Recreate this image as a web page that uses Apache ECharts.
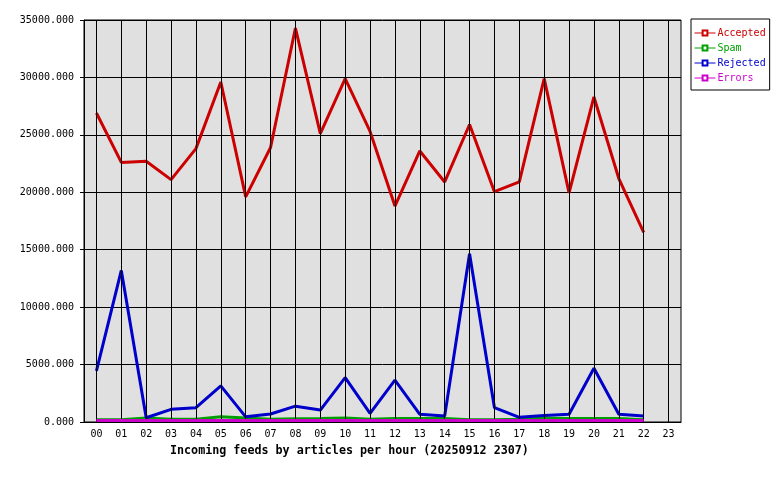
<!DOCTYPE html>
<html>
<head>
<meta charset="utf-8">
<script src="https://cdn.jsdelivr.net/npm/echarts@6/dist/echarts.min.js"></script>
<style>
  html, body { margin: 0; padding: 0; background: #fff; }
  #chart { width: 780px; height: 480px; }
</style>
</head>
<body>
<div id="chart"></div>
<script>
const hours = ['00','01','02','03','04','05','06','07','08','09','10','11',
  '12','13','14','15','16','17','18','19','20','21','22','23']

const accepted = [26900, 22600, 22700, 21100, 23800, 29600, 19600, 23900, 34300, 25100, 29900, 25300,
  18800, 23600, 20900, 25900, 20050, 20900, 29900, 19950, 28300, 21200, 16500]
const spam = [200, 200, 350, 250, 250, 450, 350, 250, 280, 300, 350, 250,
  300, 300, 300, 200, 200, 250, 320, 300, 300, 300, 200]
const rejected = [4450, 13200, 370, 1100, 1250, 3150, 450, 700, 1380, 1040, 3860, 750,
  3650, 670, 520, 14650, 1250, 410, 560, 670, 4680, 670, 520]
const errors = [120, 120, 120, 120, 120, 120, 120, 120, 120, 120, 120, 120,
  120, 120, 120, 120, 120, 120, 120, 120, 120, 120, 120]

const monoFont = '"DejaVu Sans Mono", "Liberation Mono", monospace'

const chart = echarts.init(document.getElementById('chart'))

const lineSeries = (name, color, data, z) => ({
  name,
  type: 'line',
  data,
  z,
  symbol: 'emptyRect',
  symbolSize: 4,
  showSymbol: false,
  animation: false,
  itemStyle: { color },
  lineStyle: { color, width: 3 }
})

chart.setOption({
  animation: false,
  grid: {
    left: 84, right: 99, top: 20, bottom: 58,
    show: true,
    backgroundColor: '#e0e0e0',
    borderColor: '#000',
    borderWidth: 1
  },
  title: {
    text: 'Incoming feeds by articles per hour (20250912 2307)',
    left: 170,
    top: 445,
    padding: 0,
    textStyle: { fontFamily: monoFont, fontSize: 11.7, fontWeight: 'bold', color: '#000' }
  },
  legend: {
    orient: 'vertical',
    left: 691,
    top: 19,
    padding: [9, 4, 7, 3],
    itemGap: 5,
    itemWidth: 21,
    itemHeight: 6,
    backgroundColor: '#fff',
    borderColor: '#000',
    borderWidth: 1,
    borderRadius: 0,
    lineStyle: { width: 1 },
    itemStyle: { borderWidth: 1 },
    textStyle: { fontFamily: monoFont, fontSize: 10, padding: [0, 0, 0, -3] },
    data: [
      { name: 'Accepted', textStyle: { color: '#cc0000' } },
      { name: 'Spam', textStyle: { color: '#00a000' } },
      { name: 'Rejected', textStyle: { color: '#0000cc' } },
      { name: 'Errors', textStyle: { color: '#cc00cc' } }
    ]
  },
  xAxis: {
    type: 'category',
    data: hours,
    boundaryGap: true,
    axisLine: { lineStyle: { color: '#000', width: 1 } },
    axisTick: { alignWithLabel: true, length: 5, lineStyle: { color: '#000' } },
    axisLabel: { color: '#000', fontFamily: monoFont, fontSize: 10, margin: 7, interval: 0 },
    splitLine: { show: false }
  },
  yAxis: {
    type: 'value',
    min: 0,
    max: 35000,
    interval: 5000,
    axisLine: { show: true, lineStyle: { color: '#000', width: 1 } },
    axisTick: { show: true, length: 4, lineStyle: { color: '#000' } },
    axisLabel: {
      color: '#000', fontFamily: monoFont, fontSize: 10, margin: 10,
      formatter: v => v.toFixed(3)
    },
    splitLine: { show: true, lineStyle: { color: '#000', width: 1 } }
  },
  series: [
    {
      // vertical grid lines at each hour
      type: 'line',
      data: [],
      z: 1,
      silent: true,
      markLine: {
        silent: true,
        symbol: 'none',
        animation: false,
        label: { show: false },
        lineStyle: { color: '#000', width: 1, type: 'solid' },
        data: hours.map(h => ({ xAxis: h }))
      }
    },
    lineSeries('Accepted', '#cc0000', accepted, 3),
    lineSeries('Spam', '#00a000', spam, 3),
    lineSeries('Rejected', '#0000cc', rejected, 4),
    lineSeries('Errors', '#cc00cc', errors, 5)
  ]
})
</script>
</body>
</html>
